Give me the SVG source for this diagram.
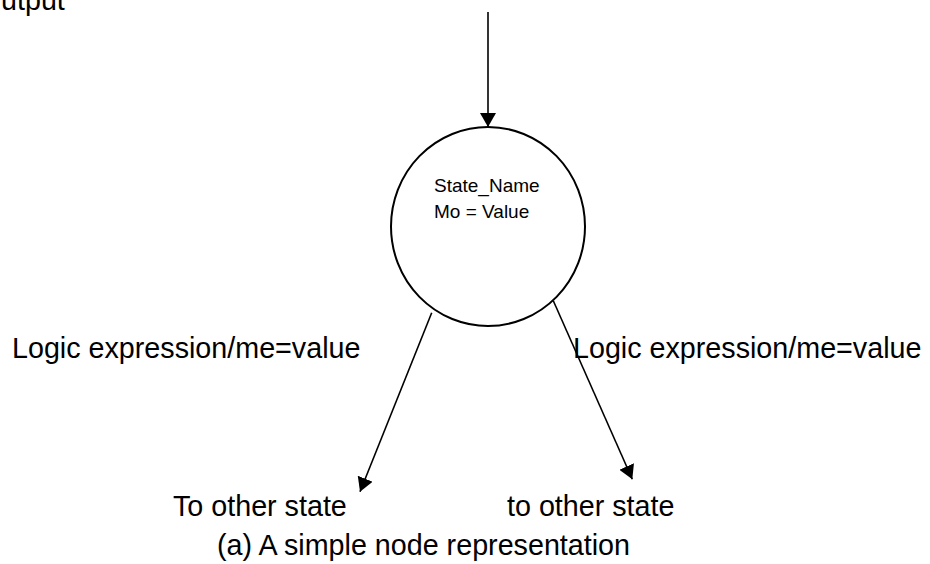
<svg xmlns="http://www.w3.org/2000/svg" width="930" height="564" viewBox="0 0 930 564">
  <style>
    .lbl { font-family: "Liberation Sans", Arial, sans-serif; font-size: 28.7px; fill: #000; }
    .inner { font-family: "Liberation Sans", Arial, sans-serif; font-size: 19px; fill: #000; }
    .edge { stroke: #000; stroke-width: 1.6; fill: none; marker-end: url(#arrow); }
    .state { stroke: #000; stroke-width: 2; fill: #fff; }
  </style>
  <defs>
    <marker id="arrow" viewBox="0 0 14 16" refX="14" refY="8" markerWidth="14" markerHeight="16" markerUnits="userSpaceOnUse" orient="auto">
      <path d="M0,0 L14,8 L0,16 Z" fill="#000"/>
    </marker>
  </defs>

  <!-- caption fragment at the top-left edge -->
  <text class="lbl" x="1" y="9.5">utput</text>

  <!-- the state node -->
  <g id="state-node">
    <ellipse class="state" cx="488" cy="226.5" rx="97" ry="99.5"/>
    <text class="inner" x="434" y="192">State_Name</text>
    <text class="inner" x="434" y="218">Mo = Value</text>
  </g>

  <!-- transitions -->
  <g id="connectors">
    <line class="edge" x1="488" y1="12" x2="488" y2="127"/>
    <line class="edge" x1="431.7" y1="312.7" x2="360" y2="491.7"/>
    <line class="edge" x1="553.3" y1="300.7" x2="632.3" y2="479.3"/>
  </g>

  <!-- transition labels -->
  <g id="labels">
    <text class="lbl" x="12" y="358">Logic expression/me=value</text>
    <text class="lbl" x="573" y="358">Logic expression/me=value</text>
    <text class="lbl" x="173" y="516">To other state</text>
    <text class="lbl" x="507" y="516">to other state</text>
    <text class="lbl" x="217" y="555">(a) A simple node representation</text>
  </g>
</svg>
